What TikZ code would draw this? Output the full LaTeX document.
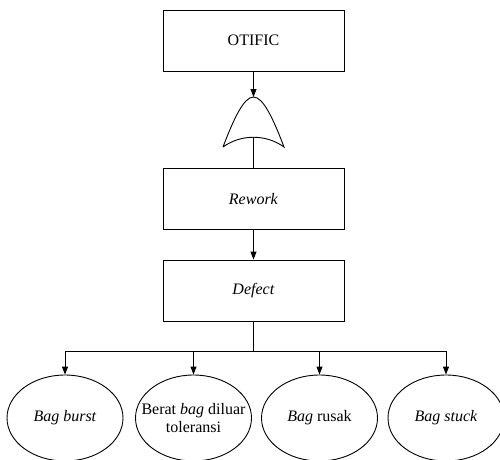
\documentclass[tikz,border=0pt]{standalone}
\usepackage{fontspec}
\setmainfont{Liberation Serif}
\usetikzlibrary{shapes.geometric,arrows.meta}
\begin{document}
\begin{tikzpicture}[x=1pt,y=-1pt,
  every path/.style={line width=0.9pt},
  box/.style={draw, rectangle, minimum width=181pt, minimum height=61pt, inner sep=0pt, font=\fontsize{16}{18}\selectfont},
  oval/.style={draw, ellipse, minimum width=116pt, minimum height=86pt, inner sep=-30pt, align=center, font=\fontsize{16}{18}\selectfont},
  arr/.style={-{Triangle[length=8pt,width=6pt]}}]
\useasboundingbox (0,0) rectangle (500,459);
\node[box] (otific) at (253.5,40.5) {OTIFIC};
\node[box] (rework) at (253.5,199) {\textit{Rework}};
\node[box] (defect) at (253.5,290.5) {\textit{Defect}};
\coordinate (gtop) at (253.5,97);
\coordinate (gbot) at (253.5,137);
\coordinate (gl) at (223,147);
\coordinate (gr) at (284,147);
\draw (gl) .. controls (234,118) and (244,97) .. (gtop)
      .. controls (263,97) and (273,118) .. (gr)
      .. controls (266,134) and (241,134) .. (gl);
\draw[arr] (otific) -- (gtop);
\draw (gbot) -- (rework);
\draw[arr] (rework) -- (defect);
\coordinate (j) at (253.5,351);
\draw (defect) -- (j);
\node[oval] (e1) at (65,418) {\textit{Bag burst}};
\node[oval] (e2) at (193.5,418) {Berat \textit{bag} diluar\\toleransi};
\node[oval] (e3) at (319.5,418) {\textit{Bag} rusak};
\node[oval] (e4) at (446,418) {\textit{Bag stuck}};
\draw[arr] (j) -| (e1);
\draw[arr] (j) -| (e2);
\draw[arr] (j) -| (e3);
\draw[arr] (j) -| (e4);
\end{tikzpicture}
\end{document}
